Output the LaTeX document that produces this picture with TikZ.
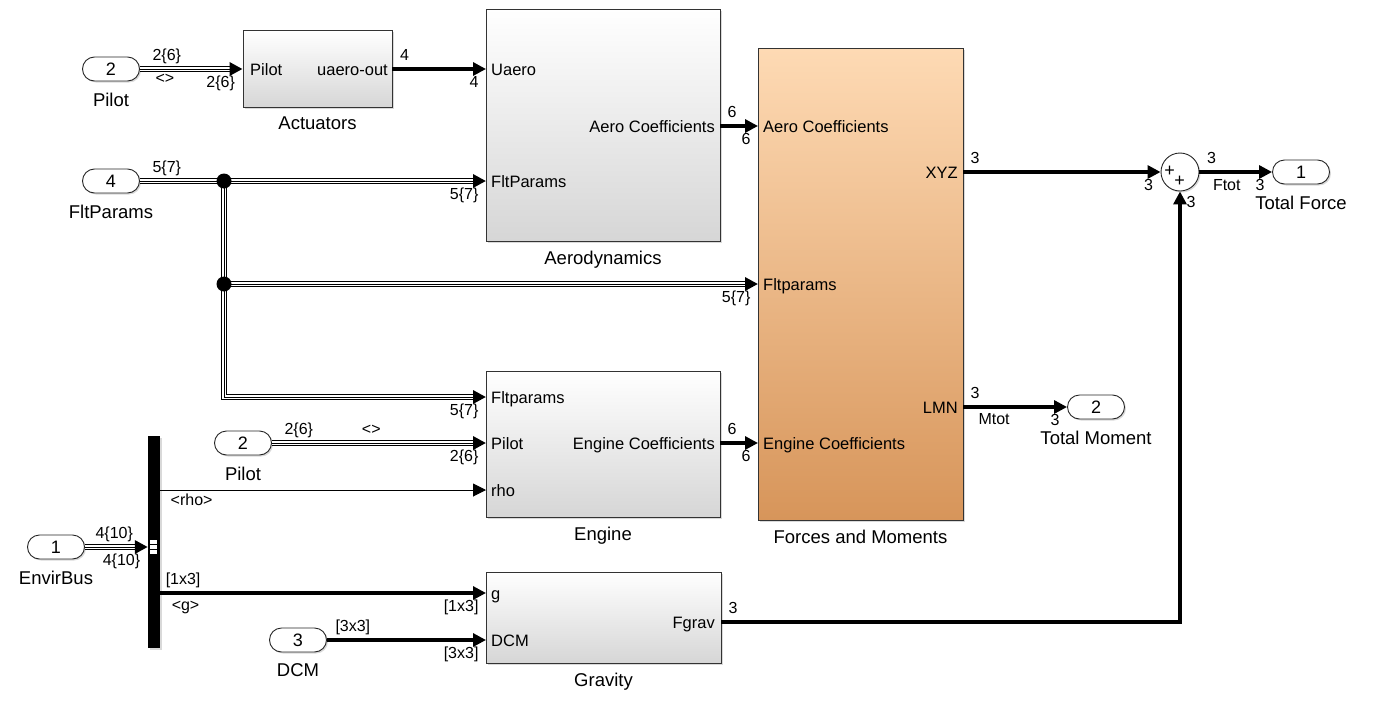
\documentclass[tikz,border=0pt]{standalone}
\usepackage{fontspec}
\setmainfont{Liberation Sans}
\usetikzlibrary{positioning,arrows.meta,shadows,decorations.markings}
\definecolor{fmtop}{HTML}{FEDAB4}
\definecolor{fmbot}{HTML}{D7955A}
\definecolor{blkbot}{HTML}{D6D6D6}
\newcommand{\capfont}{\fontsize{18.5}{21}\selectfont}
\newcommand{\prtfont}{\fontsize{16.5}{19}\selectfont}
\newcommand{\labfont}{\fontsize{16}{18}\selectfont}

\begin{document}
\begin{tikzpicture}[
  x=1pt, y=-1pt,
  >={Triangle[length=13pt,width=13pt]},
  every node/.style={inner sep=1pt},
  blkshadow/.style={drop shadow={shadow xshift=1.5pt, shadow yshift=-1.5pt, opacity=0.3}},
  block/.style={draw=black!80, line width=0.9pt, top color=white, bottom color=blkbot, inner sep=0pt, blkshadow},
  fmblock/.style={block, top color=fmtop, bottom color=fmbot},
  port/.style={draw=black!85, line width=0.9pt, fill=white, rounded corners=12pt, minimum width=57pt, minimum height=24pt, inner sep=0pt, font=\fontsize{18}{20}\selectfont, blkshadow},
  bcap/.style={font=\capfont},
  prt/.style={font=\prtfont, text height=0.72em, text depth=0pt, inner sep=0pt, yshift=-2.5pt},
  lab/.style={font=\labfont, text height=0.72em, text depth=0.25em},
  sl/.style={lab, pos=0, anchor=south west, xshift=5pt, yshift=3.5pt},
  el/.style={lab, pos=1, anchor=north east, xshift=-5pt, yshift=-9pt},
  bl/.style={lab, pos=0, anchor=north west},
  sig/.style={->, line width=3.1pt},
  fsig/.style={->, line width=1pt},
  busline/.style={draw=white, line width=3.2pt, preaction={draw=black, line width=5.2pt}, postaction={draw=black, line width=1pt}},
  bus/.style={draw=white, line width=3.2pt, shorten >=6pt,
    preaction={draw=black, line width=5.2pt, shorten >=6pt},
    postaction={draw=black, line width=1pt, shorten >=6pt},
    postaction={decorate, decoration={markings, mark=at position 1 with {\arrow[black]{>}}}}}
]
  \useasboundingbox (0,0) rectangle (1376,704);

  % inports and outports
  \node[port] (pilA) at (111,69) {2};
  \node[port] (fltp) at (111,181) {4};
  \node[port] (envb) at (56,547) {1};
  \node[port] (pilB) at (243,443) {2};
  \node[port] (dcm) at (298,640) {3};
  \node[port] (tfo) at (1301,172) {1};
  \node[port] (tmo) at (1096,407) {2};
  \node[bcap, below=10pt of pilA] (pilA-cap) {Pilot};
  \node[bcap, below=10pt of fltp] (fltp-cap) {FltParams};
  \node[bcap, below=10pt of envb] (envb-cap) {EnvirBus};
  \node[bcap, below=10pt of pilB] (pilB-cap) {Pilot};
  \node[bcap, below=10pt of dcm] (dcm-cap) {DCM};
  \node[bcap, below=10pt of tfo] (tfo-cap) {Total Force};
  \node[bcap, below=10pt of tmo] (tmo-cap) {Total Moment};

  % blocks
  \node[block, minimum width=149pt, minimum height=77pt] (act) at (317.5,69) {};
  \node[block, minimum width=234pt, minimum height=232pt] (aero) at (603,125) {};
  \node[fmblock, minimum width=205pt, minimum height=472pt] (fm) at (860.5,284) {};
  \node[block, minimum width=234pt, minimum height=146pt] (eng) at (603,444) {};
  \node[block, minimum width=235pt, minimum height=91pt] (grav) at (603.5,617.5) {};
  \node[fill=black, minimum width=12pt, minimum height=212pt, inner sep=0pt, blkshadow] (bsel) at (154,542) {};
  \node[draw=black!85, circle, line width=0.9pt, fill=white, minimum size=38pt, inner sep=0pt, blkshadow] (sum) at (1180,172) {};
  \node[bcap, below=8pt of act] (act-cap) {Actuators};
  \node[bcap, below=8pt of aero] (aero-cap) {Aerodynamics};
  \node[bcap, below=8pt of fm] (fm-cap) {Forces and Moments};
  \node[bcap, below=8pt of eng] (eng-cap) {Engine};
  \node[bcap, below=8pt of grav] (grav-cap) {Gravity};

  % port points
  \coordinate (aero-u) at (486,69);
  \coordinate (aero-flt) at (486,181);
  \coordinate (aero-ac) at (720,126);
  \coordinate (fm-ac) at (758,126);
  \coordinate (fm-flt) at (758,284);
  \coordinate (fm-ec) at (758,443);
  \coordinate (fm-xyz) at (963,172);
  \coordinate (fm-lmn) at (963,407);
  \coordinate (eng-flt) at (486,397);
  \coordinate (eng-pil) at (486,443);
  \coordinate (eng-rho) at (486,490);
  \coordinate (eng-ec) at (720,443);
  \coordinate (grav-g) at (486,593);
  \coordinate (grav-dcm) at (486,640);
  \coordinate (grav-out) at (721,622);
  \coordinate (j1) at (224,181);
  \coordinate (j2) at (224,284);

  % port names inside blocks
  \node[prt, anchor=west] (act-in) at (250,69) {Pilot};
  \node[prt, anchor=east] (act-out) at (388,69) {uaero-out};
  \node[prt, anchor=west] (aero-p1) at (491,69) {Uaero};
  \node[prt, anchor=west] (aero-p2) at (491,181) {FltParams};
  \node[prt, anchor=east] (aero-p3) at (715,126) {Aero Coefficients};
  \node[prt, anchor=west] (fm-p1) at (763,126) {Aero Coefficients};
  \node[prt, anchor=west] (fm-p2) at (763,284) {Fltparams};
  \node[prt, anchor=west] (fm-p3) at (763,443) {Engine Coefficients};
  \node[prt, anchor=east] (fm-p4) at (958,172) {XYZ};
  \node[prt, anchor=east] (fm-p5) at (958,407) {LMN};
  \node[prt, anchor=west] (eng-p1) at (491,397) {Fltparams};
  \node[prt, anchor=west] (eng-p2) at (491,443) {Pilot};
  \node[prt, anchor=west] (eng-p3) at (491,490) {rho};
  \node[prt, anchor=east] (eng-p4) at (715,443) {Engine Coefficients};
  \node[prt, anchor=west] (grav-p1) at (491,593) {g};
  \node[prt, anchor=west] (grav-p2) at (491,640) {DCM};
  \node[prt, anchor=east] (grav-p3) at (715,622) {Fgrav};

  % bus signals
  \draw[bus] (pilA.east) -- node[sl, xshift=5pt] {2\{6\}} node[bl, xshift=13pt, yshift=-5pt] {<>} node[el] {2\{6\}} (act.west);
  \draw[bus] (fltp.east) -- node[sl, xshift=5pt] {5\{7\}} node[el] {5\{7\}} (aero-flt);
  \draw[busline] (j1) -- (j2);
  \draw[bus] (j2) -- node[el] {5\{7\}} (fm-flt);
  \draw[bus] (j2) |- node[el] {5\{7\}} (eng-flt);
  \draw[bus] (pilB.east) -- node[sl, xshift=5pt] {2\{6\}} node[lab, pos=0.464, anchor=south, yshift=3pt] {<>} node[el] {2\{6\}} (eng-pil);
  \draw[bus] (envb.east) -- node[sl, xshift=3pt] {4\{10\}} node[el] {4\{10\}} (bsel.west |- envb);

  % plain signals
  \draw[sig] (act.east) -- node[sl] {4} node[el] {4} (aero-u);
  \draw[sig] (aero-ac) -- node[sl] {6} node[el] {6} (fm-ac);
  \draw[sig] (eng-ec) -- node[sl] {6} node[el] {6} (fm-ec);
  \draw[fsig] (bsel.east |- eng-rho) -- node[bl, xshift=9pt, yshift=-7pt] {<rho>} (eng-rho);
  \draw[sig] (bsel.east |- grav-g) -- node[sl, xshift=-2pt] {[1x3]} node[bl, xshift=9pt, yshift=-8pt] {<g>} node[el] {[1x3]} (grav-g);
  \draw[sig] (dcm.east) -- node[sl, xshift=1pt] {[3x3]} node[el] {[3x3]} (grav-dcm);
  \draw[sig] (fm-xyz) -- node[sl] {3} node[el] {3} (sum.west);
  \draw[sig] (sum.east) -- node[sl] {3} node[bl, xshift=11pt, yshift=-9pt] {Ftot} node[el] {3} (tfo.west);
  \draw[sig] (fm-lmn) -- node[sl] {3} node[bl, xshift=13pt, yshift=-8pt] {Mtot} node[el] {3} (tmo.west);
  \draw[sig] (grav-out) -| node[sl] {3} node[lab, pos=1, anchor=north west, xshift=4pt, yshift=-6pt] {3} (sum.south);

  % junctions and bus selector marks
  \fill (j1) circle (7.5pt);
  \fill (j2) circle (7.5pt);
  \foreach \k in {0,1,2}
    \fill[white] (149.5,540+5*\k) rectangle ++(7.5,4);

  % sum signs
  \node[font=\fontsize{18}{20}\selectfont, inner sep=0pt] (sum-p1) at (1169.5,171.5) {+};
  \node[font=\fontsize{18}{20}\selectfont, inner sep=0pt] (sum-p2) at (1179.5,181.5) {+};
\end{tikzpicture}
\end{document}
